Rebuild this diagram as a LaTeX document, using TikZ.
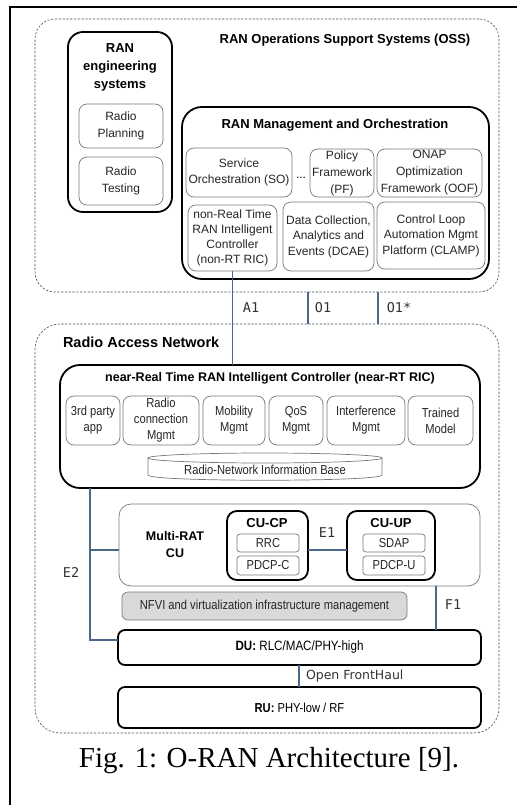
\documentclass[tikz,border=0pt]{standalone}
\usepackage{fontspec}
\setmainfont{Liberation Sans}
\newfontfamily\narrowf[FakeStretch=0.86]{Liberation Sans}
\newfontfamily\monof{DejaVu Sans Mono}
\newfontfamily\dvs{DejaVu Sans}
\newfontfamily\capf{Liberation Serif}
\definecolor{conncol}{RGB}{74,104,136}
\definecolor{gline}{RGB}{120,120,120}
\definecolor{nfvicol}{RGB}{217,217,217}
\begin{document}
\begin{tikzpicture}[x=1pt,y=-1pt,
  every node/.style={inner sep=0pt, outer sep=0pt},
  tbox/.style={draw=black, line width=1.8pt, rounded corners=#1, anchor=north west},
  tbox/.default=12pt,
  gbox/.style={draw=gline, line width=0.7pt, rounded corners=#1, anchor=north west, align=center, text=black!85},
  gbox/.default=8pt,
  dbox/.style={draw=black!70, line width=0.6pt, dash pattern=on 2.2pt off 1.6pt, rounded corners=#1, anchor=north west},
  connl/.style={draw=conncol, line width=1.3pt},
  ttl/.style={font=\bfseries\fontsize{13}{18}\selectfont, align=center},
  lbl/.style={font=\monof\fontsize{13.5}{15}\selectfont, text=black!80},
  sub/.style={font=\fontsize{12}{15.5}\selectfont},
  nar/.style={font=\narrowf\fontsize{13}{16}\selectfont},
]
\useasboundingbox (0,0) rectangle (517,805);
\fill[white] (0,0) rectangle (517,805);
% outer frame
\draw[line width=1.6pt] (10,805) -- (10,7) -- (517,7);

% OSS
\node[dbox=20pt, minimum width=464pt, minimum height=273pt] (oss) at (35,19) {};
\node[ttl] (osst) at (345,40) {RAN Operations Support Systems (OSS)};

\node[tbox=15pt, minimum width=104pt, minimum height=180pt] (eng) at (68,32) {};
\node[ttl] (engt) at (120,67) {RAN\\engineering\\systems};
\node[gbox, sub, font=\fontsize{12}{17}\selectfont, minimum width=84pt, minimum height=44pt] (plan) at (79,104) {Radio\\Planning};
\node[gbox, sub, font=\fontsize{12}{17}\selectfont, minimum width=84pt, minimum height=48pt] (test) at (79,157) {Radio\\Testing};

\node[tbox=20pt, minimum width=307pt, minimum height=172pt] (mgmt) at (182,107) {};
\node[ttl] (mgmtt) at (335,125) {RAN Management and Orchestration};
\node[gbox, sub, minimum width=106pt, minimum height=49pt] (so) at (186,148) {Service\\Orchestration (SO)};
\node[sub] (dots) at (301,178) {...};
\node[gbox, sub, font=\fontsize{12}{17}\selectfont, minimum width=64pt, minimum height=48pt] (pf) at (310,149) {Policy\\Framework\\(PF)};
\node[gbox, sub, font=\fontsize{12}{17}\selectfont, minimum width=105pt, minimum height=48pt] (oof) at (377,149) {ONAP\\Optimization\\Framework (OOF)};
\node[gbox, sub, font=\fontsize{12}{15}\selectfont, minimum width=89pt, minimum height=66pt] (nonrt) at (188,205) {non-Real Time\\RAN Intelligent\\Controller\\(non-RT RIC)};
\node[gbox, sub, minimum width=91pt, minimum height=69pt] (dcae) at (283,202) {Data Collection,\\Analytics and\\Events (DCAE)};
\node[gbox, sub, minimum width=108pt, minimum height=67pt] (clamp) at (377,202) {Control Loop\\Automation Mgmt\\Platform (CLAMP)};

% RAN
\node[dbox=25pt, minimum width=464pt, minimum height=409pt] (ran) at (35,324) {};
\node[ttl, anchor=west, font=\bfseries\fontsize{14.5}{17}\selectfont] (rant) at (63,342) {Radio Access Network};

\node[tbox=20pt, minimum width=420pt, minimum height=123pt] (ric) at (60,365) {};
\node[ttl, font=\bfseries\fontsize{12.5}{15}\selectfont] (rict) at (270,378) {near-Real Time RAN Intelligent Controller (near-RT RIC)};
\node[gbox, nar, minimum width=54pt, minimum height=49pt] (app) at (66,396) {3rd party\\app};
\node[gbox, nar, minimum width=76pt, minimum height=49pt] (rcm) at (123,396) {Radio\\connection\\Mgmt};
\node[gbox, nar, minimum width=62pt, minimum height=49pt] (mob) at (203,396) {Mobility\\Mgmt};
\node[gbox, nar, minimum width=54pt, minimum height=49pt] (qos) at (269,396) {QoS\\Mgmt};
\node[gbox, nar, minimum width=78pt, minimum height=49pt] (intf) at (327,396) {Interference\\Mgmt};
\node[gbox, nar, minimum width=65pt, minimum height=49pt] (trm) at (408,396) {Trained\\Model};
% Radio-Network Information Base cylinder
\draw[draw=gline, line width=0.7pt, fill=white] (148,458) -- (148,475) .. controls (148,482) and (382,482) .. (382,475) -- (382,458);
\draw[draw=gline, line width=0.7pt] (265,458) ellipse [x radius=117, y radius=5];
\node[nar, text=black!85] (rnib) at (265,470) {Radio-Network Information Base};

% CU
\node[gbox=12pt, minimum width=361pt, minimum height=82pt] (cu) at (119,504) {};
\node[ttl, font=\bfseries\fontsize{12.5}{17}\selectfont] (cut) at (175,545) {Multi-RAT\\CU};
\node[tbox=10pt, minimum width=81pt, minimum height=69pt] (cucp) at (227,511) {};
\node[ttl] (cucpt) at (267,523) {CU-CP};
\node[gbox=3pt, nar, minimum width=62pt, minimum height=18pt] (rrc) at (237,534) {RRC};
\node[gbox=3pt, nar, minimum width=62pt, minimum height=19pt] (pdcpc) at (237,556) {PDCP-C};
\node[tbox=10pt, minimum width=88pt, minimum height=69pt] (cuup) at (347,511) {};
\node[ttl] (cuupt) at (391,523) {CU-UP};
\node[gbox=3pt, nar, minimum width=62pt, minimum height=18pt] (sdap) at (363,534) {SDAP};
\node[gbox=3pt, nar, minimum width=62pt, minimum height=19pt] (pdcpu) at (363,556) {PDCP-U};

\node[gbox=6pt, nar, fill=nfvicol, minimum width=285pt, minimum height=28pt] (nfvi) at (122,592) {NFVI and virtualization infrastructure management};

\node[tbox=7pt, nar, font=\narrowf\fontsize{13.5}{16}\selectfont, minimum width=363pt, minimum height=35pt] (du) at (118,630) {\textbf{DU:} RLC/MAC/PHY-high};
\node[tbox=7pt, nar, font=\narrowf\fontsize{13}{16}\selectfont, minimum width=363pt, minimum height=41pt] (ru) at (118,687) {\textbf{RU:} PHY-low / RF};

% connectors
\coordinate (o1x) at (308,0);
\coordinate (o1sx) at (378,0);
\coordinate (e2b) at (90,640);
\coordinate (e2m) at (90,550);
\coordinate (e1y) at (0,550);
\coordinate (f1x) at (436,0);
\coordinate (fhx) at (299,0);
\draw[connl] (nonrt.south) -- (nonrt.south |- ric.north);
\draw[connl] (oss.south -| o1x) -- (ran.north -| o1x);
\draw[connl] (oss.south -| o1sx) -- (ran.north -| o1sx);
\draw[connl] (ric.south -| e2b) -- (e2b) -- (e2b -| du.west);
\draw[connl] (e2m) -- (e2m -| cu.west);
\draw[connl] (cucp.east |- e1y) -- (cuup.west |- e1y);
\draw[connl] (cu.south -| f1x) -- (du.north -| f1x);
\draw[connl] (du.south -| fhx) -- (ru.north -| fhx);

\node[lbl] (a1) at (251,308) {A1};
\node[lbl] (o1) at (323,308) {O1};
\node[lbl] (o1s) at (399,308) {O1*};
\node[lbl] (e2) at (71,572) {E2};
\node[lbl] (e1) at (327,533) {E1};
\node[lbl] (f1) at (453,605) {F1};
\node[anchor=west, font=\dvs\fontsize{12.5}{15}\selectfont, text=black!80] (fh) at (306,676) {Open FrontHaul};

% caption
\node[anchor=base, font=\capf\fontsize{29}{32}\selectfont] (cap) at (269,767) {Fig. 1: O-RAN Architecture [9].};
\end{tikzpicture}
\end{document}
